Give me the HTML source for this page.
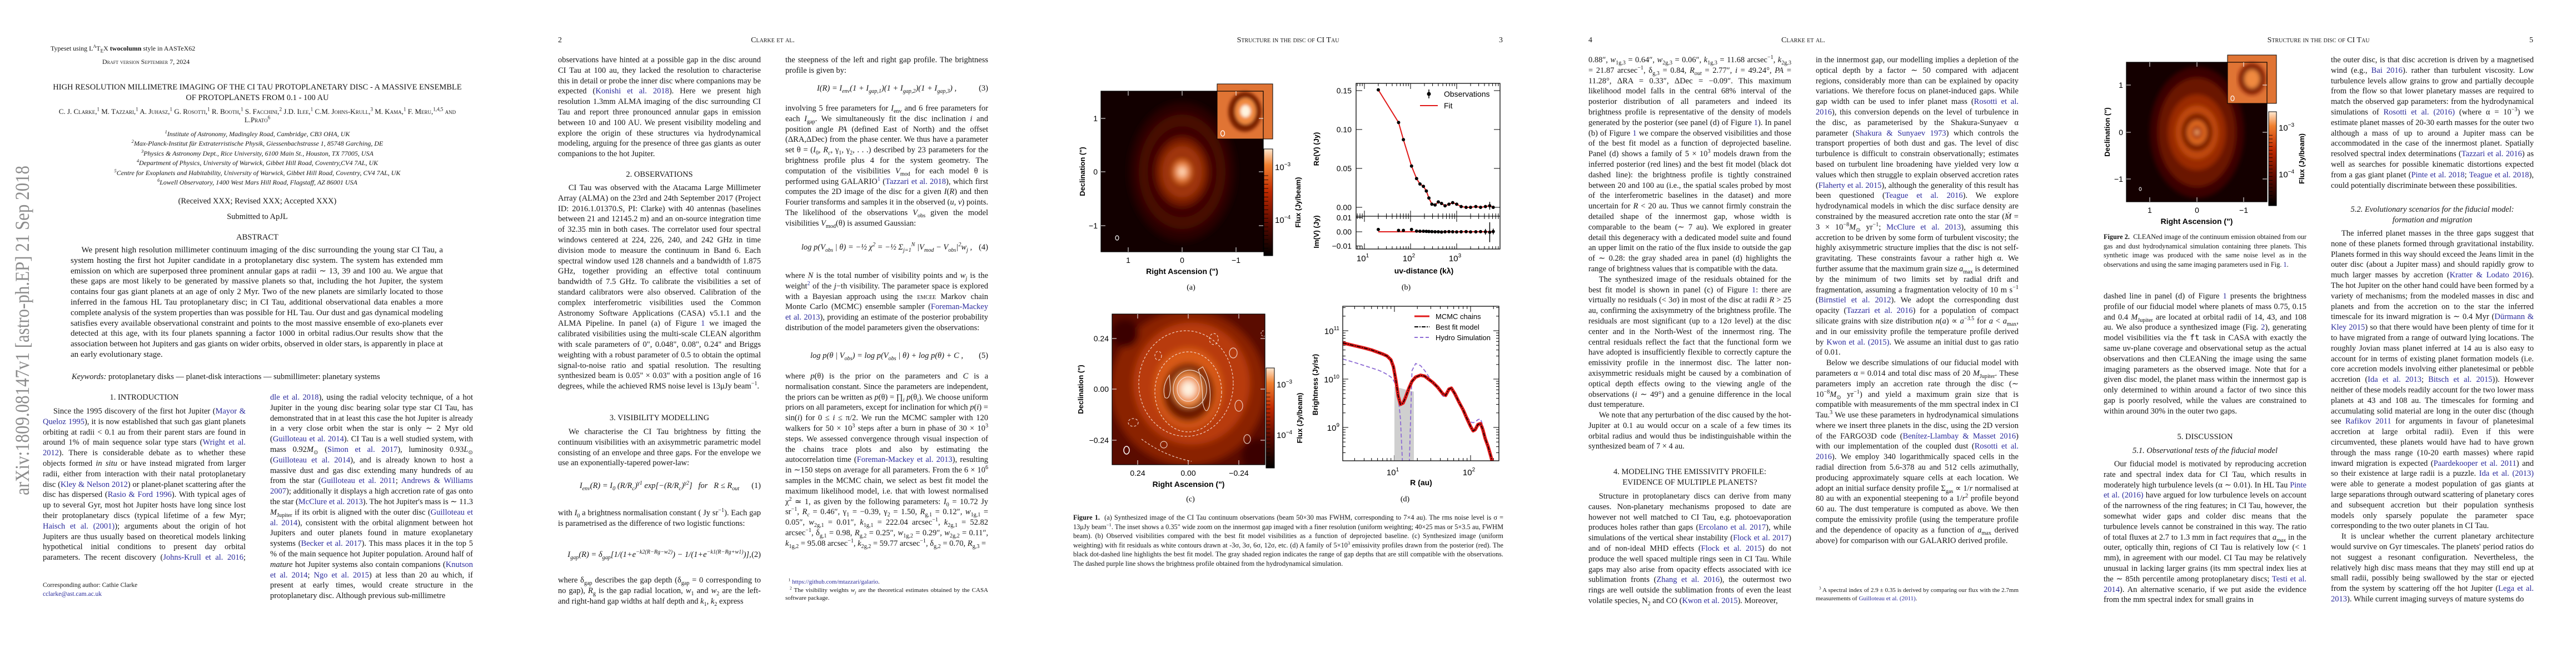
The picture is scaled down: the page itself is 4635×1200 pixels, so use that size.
<!DOCTYPE html>
<html lang="en"><head><meta charset="utf-8">
<style>
body{margin:0;width:4635px;height:1200px;background:#fff;position:relative;overflow:hidden;font-family:"Liberation Serif",serif;color:#151515}
sup,sub{line-height:0;font-size:70%}
.page{position:absolute;top:0;width:927px;height:1200px}
.t{position:absolute;width:365px;font-size:14.5px;line-height:18.8px;text-align:justify;hyphens:auto;overflow:hidden}
.t p{margin:0;text-indent:1.3em}
.c{color:#2b2b9c}
.h{position:absolute;font-size:14.5px;text-align:center;white-space:nowrap;line-height:18px}
.hd{position:absolute;top:65px;font-size:14px;font-variant:small-caps;white-space:nowrap}
.eq{position:absolute;width:365px;font-size:14.5px;font-style:italic;text-align:center;white-space:nowrap}
.eq b{position:absolute;right:0;font-weight:normal;font-style:normal}
.fn{position:absolute;width:365px;font-size:11px;line-height:14.5px;text-align:justify}
.cap{position:absolute;font-size:12.3px;line-height:16.6px;text-align:justify}
svg text{font-family:"Liberation Sans",sans-serif}
</style></head><body>

<!-- PAGE 1 -->
<div class="page" style="left:0">
<svg width="80" height="1200" style="position:absolute;left:0;top:0">
<text transform="translate(52,891) rotate(-90)" textLength="593" lengthAdjust="spacingAndGlyphs" font-size="36" fill="#8c8c8c" style="font-family:'Liberation Serif',serif">arXiv:1809.08147v1  [astro-ph.EP]  21 Sep 2018</text></svg>
<div class="h" style="left:91px;top:78px;font-size:12px;text-align:left">Typeset using L<sup style="font-size:8px">A</sup>T<sub style="font-size:9px">E</sub>X <b>twocolumn</b> style in AASTeX62</div>
<div class="h" style="left:184px;top:102px;font-size:12px;font-variant:small-caps">Draft version September 7, 2024</div>
<div class="h" style="left:78px;width:770px;top:148px;white-space:normal;line-height:19px">HIGH RESOLUTION MILLIMETRE IMAGING OF THE CI TAU PROTOPLANETARY DISC - A MASSIVE ENSEMBLE<br>OF PROTOPLANETS FROM 0.1 - 100 AU</div>
<div class="h" style="left:78px;width:770px;top:193px;white-space:normal;font-size:13px;font-variant:small-caps;line-height:15px">C. J. Clarke,<sup>1</sup> M. Tazzari,<sup>1</sup> A. Juhasz,<sup>1</sup> G. Rosotti,<sup>1</sup> R. Booth,<sup>1</sup> S. Facchini,<sup>2</sup> J.D. Ilee,<sup>1</sup> C.M. Johns-Krull,<sup>3</sup> M. Kama,<sup>1</sup> F. Meru,<sup>1,4,5</sup> and<br>L.Prato<sup>6</sup></div>
<div class="h" style="left:78px;width:770px;top:233px;white-space:normal;font-size:12px;font-style:italic;line-height:17.4px"><sup>1</sup>Institute of Astronomy, Madingley Road, Cambridge, CB3 OHA, UK<br><sup>2</sup>Max-Planck-Institut für Extraterristische Physik, Giessenbachstrasse 1, 85748 Garching, DE<br><sup>3</sup>Physics &amp; Astronomy Dept., Rice University, 6100 Main St., Houston, TX 77005, USA<br><sup>4</sup>Department of Physics, University of Warwick, Gibbet Hill Road, Coventry,CV4 7AL, UK<br><sup>5</sup>Centre for Exoplanets and Habitability, University of Warwick, Gibbet Hill Road, Coventry, CV4 7AL, UK<br><sup>6</sup>Lowell Observatory, 1400 West Mars Hill Road, Flagstaff, AZ 86001 USA</div>
<div class="h" style="left:78px;width:770px;top:353px">(Received XXX; Revised XXX; Accepted XXX)</div>
<div class="h" style="left:78px;width:770px;top:381px">Submitted to ApJL</div>
<div class="h" style="left:78px;width:770px;top:418px">ABSTRACT</div>
<div class="t" style="left:127px;width:670px;top:441px;height:207px;font-size:15px"><p>We present high resolution millimeter continuum imaging of the disc surrounding the young star CI Tau, a system hosting the first hot Jupiter candidate in a protoplanetary disc system. The system has extended mm emission on which are superposed three prominent annular gaps at radii ∼ 13, 39 and 100 au. We argue that these gaps are most likely to be generated by massive planets so that, including the hot Jupiter, the system contains four gas giant planets at an age of only 2 Myr. Two of the new planets are similarly located to those inferred in the famous HL Tau protoplanetary disc; in CI Tau, additional observational data enables a more complete analysis of the system properties than was possible for HL Tau. Our dust and gas dynamical modeling satisfies every available observational constraint and points to the most massive ensemble of exo-planets ever detected at this age, with its four planets spanning a factor 1000 in orbital radius.Our results show that the association between hot Jupiters and gas giants on wider orbits, observed in older stars, is apparently in place at an early evolutionary stage.</p></div>
<div class="h" style="left:129px;top:669px"><i>Keywords:</i> protoplanetary disks — planet-disk interactions — submillimeter: planetary systems</div>
<div class="h" style="left:77px;width:365px;top:706px">1. INTRODUCTION</div>
<div class="t" style="left:77px;top:731px;height:282px"><p>Since the 1995 discovery of the first hot Jupiter (<span class="c">Mayor &amp; Queloz 1995</span>), it is now established that such gas giant planets orbiting at radii &lt; 0.1 au from their parent stars are found in around 1% of main sequence solar type stars (<span class="c">Wright et al. 2012</span>). There is considerable debate as to whether these objects formed <i>in situ</i> or have instead migrated from larger radii, either from interaction with their natal protoplanetary disc (<span class="c">Kley &amp; Nelson 2012</span>) or planet-planet scattering after the disc has dispersed (<span class="c">Rasio &amp; Ford 1996</span>). With typical ages of up to several Gyr, most hot Jupiter hosts have long since lost their protoplanetary discs (typical lifetime of a few Myr; <span class="c">Haisch et al. (2001)</span>); arguments about the origin of hot Jupiters are thus usually based on theoretical models linking hypothetical initial conditions to present day orbital parameters. The recent discovery (<span class="c">Johns-Krull et al. 2016</span>; <span class="c">Biddle et al. 2018</span>), using the radial velocity technique</p></div>
<div class="fn" style="left:77px;top:1045px;line-height:16px;font-size:11.5px">Corresponding author: Cathie Clarke<br><span class="c">cclarke@ast.cam.ac.uk</span></div>
<div class="t" style="left:486px;top:706px;height:376px"><span class="c">dle et al. 2018</span>), using the radial velocity technique, of a hot Jupiter in the young disc bearing solar type star CI Tau, has demonstrated that in at least this case the hot Jupiter is already in a very close orbit when the star is only ∼ 2 Myr old (<span class="c">Guilloteau et al. 2014</span>). CI Tau is a well studied system, with mass 0.92<i>M</i><sub>⊙</sub> (<span class="c">Simon et al. 2017</span>), luminosity 0.93<i>L</i><sub>⊙</sub> (<span class="c">Guilloteau et al. 2014</span>), and is already known to host a massive dust and gas disc extending many hundreds of au from the star (<span class="c">Guilloteau et al. 2011</span>; <span class="c">Andrews &amp; Williams 2007</span>); additionally it displays a high accretion rate of gas onto the star (<span class="c">McClure et al. 2013</span>). The hot Jupiter's mass is ∼ 11.3 <i>M</i><sub>Jupiter</sub> if its orbit is aligned with the outer disc (<span class="c">Guilloteau et al. 2014</span>), consistent with the orbital alignment between hot Jupiters and outer planets found in mature exoplanetary systems (<span class="c">Becker et al. 2017</span>). This mass places it in the top 5 % of the main sequence hot Jupiter population. Around half of <i>mature</i> hot Jupiter systems also contain companions (<span class="c">Knutson et al. 2014</span>; <span class="c">Ngo et al. 2015</span>) at less than 20 au which, if present at early times, would create structure in the protoplanetary disc. Although previous sub-millimetre</div>
</div>

<!-- PAGE 2 -->
<div class="page" style="left:927px">
<div class="hd" style="left:77px">2</div>
<div class="hd" style="left:0;width:927px;text-align:center">Clarke et al.</div>
<div class="t" style="left:77px;top:99px;height:188px">observations have hinted at a possible gap in the disc around CI Tau at 100 au, they lacked the resolution to characterise this in detail or probe the inner disc where companions may be expected (<span class="c">Konishi et al. 2018</span>). Here we present high resolution 1.3mm ALMA imaging of the disc surrounding CI Tau and report three pronounced annular gaps in emission between 10 and 100 AU. We present visibility modeling and explore the origin of these structures via hydrodynamical modeling, arguing for the presence of three gas giants as outer companions to the hot Jupiter.</div>
<div class="h" style="left:77px;width:365px;top:305px">2. OBSERVATIONS</div>
<div class="t" style="left:77px;top:329px;height:395px"><p>CI Tau was observed with the Atacama Large Millimeter Array (ALMA) on the 23rd and 24th September 2017 (Project ID: 2016.1.01370.S, PI: Clarke) with 40 antennas (baselines between 21 and 12145.2 m) and an on-source integration time of 32.35 min in both cases. The correlator used four spectral windows centered at 224, 226, 240, and 242 GHz in time division mode to measure the continuum in Band 6. Each spectral window used 128 channels and a bandwidth of 1.875 GHz, together providing an effective total continuum bandwidth of 7.5 GHz. To calibrate the visibilities a set of standard calibrators were also observed. Calibration of the complex interferometric visibilities used the Common Astronomy Software Applications (CASA) v5.1.1 and the ALMA Pipeline. In panel (a) of Figure <span class="c">1</span> we imaged the calibrated visibilities using the multi-scale CLEAN algorithm with scale parameters of 0", 0.048", 0.08", 0.24" and Briggs weighting with a robust parameter of 0.5 to obtain the optimal signal-to-noise ratio and spatial resolution. The resulting synthesized beam is 0.05" × 0.03" with a position angle of 16 degrees, while the achieved RMS noise level is 13μJy beam<sup>−1</sup>.</p></div>
<div class="h" style="left:77px;width:365px;top:743px">3. VISIBILITY MODELLING</div>
<div class="t" style="left:77px;top:768px;height:76px"><p>We characterise the CI Tau brightness by fitting the continuum visibilities with an axisymmetric parametric model consisting of an envelope and three gaps. For the envelope we use an exponentially-tapered power-law:</p></div>
<div class="eq" style="left:77px;top:866px">I<sub>env</sub>(R) = I<sub>0</sub> (R/R<sub>c</sub>)<sup>γ1</sup> exp[−(R/R<sub>c</sub>)<sup>γ2</sup>] &nbsp; for &nbsp; R ≤ R<sub>out</sub><b>(1)</b></div>
<div class="t" style="left:77px;top:914px;height:57px">with <i>I</i><sub>0</sub> a brightness normalisation constant ( Jy sr<sup>−1</sup>). Each gap is parametrised as the difference of two logistic functions:</div>
<div class="eq" style="left:77px;top:990px">I<sub>gap</sub>(R) = δ<sub>gap</sub>[1/(1+e<sup>−k2(R−Rg−w2)</sup>) − 1/(1+e<sup>−k1(R−Rg+w1)</sup>)],<b>(2)</b></div>
<div class="t" style="left:77px;top:1035px;height:57px">where δ<sub>gap</sub> describes the gap depth (δ<sub>gap</sub> = 0 corresponding to no gap), <i>R</i><sub>g</sub> is the gap radial location, <i>w</i><sub>1</sub> and <i>w</i><sub>2</sub> are the left- and right-hand gap widths at half depth and <i>k</i><sub>1</sub>, <i>k</i><sub>2</sub> express</div>
<div class="t" style="left:486px;top:99px;height:38px">the steepness of the left and right gap profile. The brightness profile is given by:</div>
<div class="eq" style="left:486px;top:151px">I(R) = I<sub>env</sub>(1 + I<sub>gap,1</sub>)(1 + I<sub>gap,2</sub>)(1 + I<sub>gap,3</sub>) ,<b>(3)</b></div>
<div class="t" style="left:486px;top:186px;height:226px">involving 5 free parameters for <i>I</i><sub>env</sub> and 6 free parameters for each <i>I</i><sub>gap</sub>. We simultaneously fit the disc inclination <i>i</i> and position angle <i>PA</i> (defined East of North) and the offset (ΔRA,ΔDec) from the phase center. We thus have a parameter set θ = (<i>I</i><sub>0</sub>, <i>R<sub>c</sub></i>, γ<sub>1</sub>, γ<sub>2</sub>, . . .) described by 23 parameters for the brightness profile plus 4 for the system geometry. The computation of the visibilities <i>V</i><sub>mod</sub> for each model θ is performed using GALARIO<sup class="c">1</sup> (<span class="c">Tazzari et al. 2018</span>), which first computes the 2D image of the disc for a given <i>I</i>(<i>R</i>) and then Fourier transforms and samples it in the observed (<i>u, v</i>) points. The likelihood of the observations <i>V</i><sub>obs</sub> given the model visibilities <i>V</i><sub>mod</sub>(θ) is assumed Gaussian:</div>
<div class="eq" style="left:486px;top:437px">log p(V<sub>obs</sub> | θ) = −½ χ<sup>2</sup> = −½ Σ<sub>j=1</sub><sup>N</sup> |V<sub>mod</sub> − V<sub>obs</sub>|<sup>2</sup>w<sub>j</sub> ,<b>(4)</b></div>
<div class="t" style="left:486px;top:487px;height:132px">where <i>N</i> is the total number of visibility points and <i>w<sub>j</sub></i> is the weight<sup class="c">2</sup> of the <i>j</i>−th visibility. The parameter space is explored with a Bayesian approach using the <span style="font-variant:small-caps">emcee</span> Markov chain Monte Carlo (MCMC) ensemble sampler (<span class="c">Foreman-Mackey et al. 2013</span>), providing an estimate of the posterior probability distribution of the model parameters given the observations:</div>
<div class="eq" style="left:486px;top:632px">log p(θ | V<sub>obs</sub>) = log p(V<sub>obs</sub> | θ) + log p(θ) + C ,<b>(5)</b></div>
<div class="t" style="left:486px;top:668px;height:339px">where <i>p</i>(θ) is the prior on the parameters and <i>C</i> is a normalisation constant. Since the parameters are independent, the priors can be written as <i>p</i>(θ) = ∏<sub><i>i</i></sub> <i>p</i>(θ<sub><i>i</i></sub>). We choose uniform priors on all parameters, except for inclination for which <i>p</i>(<i>i</i>) = sin(<i>i</i>) for 0 ≤ <i>i</i> ≤ π/2. We run the MCMC sampler with 120 walkers for 50 × 10<sup>3</sup> steps after a burn in phase of 30 × 10<sup>3</sup> steps. We assessed convergence through visual inspection of the chains trace plots and also by estimating the autocorrelation time (<span class="c">Foreman-Mackey et al. 2013</span>), resulting in ∼150 steps on average for all parameters. From the 6 × 10<sup>6</sup> samples in the MCMC chain, we select as best fit model the maximum likelihood model, i.e. that with lowest normalised χ<sup>2</sup> ≃ 1, as given by the following parameters: <i>I</i><sub>0</sub> = 10.72 Jy sr<sup>−1</sup>, <i>R<sub>c</sub></i> = 0.46″, γ<sub>1</sub> = −0.39, γ<sub>2</sub> = 1.50, <i>R</i><sub>g,1</sub> = 0.12″, <i>w</i><sub>1g,1</sub> = 0.05″, <i>w</i><sub>2g,1</sub> = 0.01″, <i>k</i><sub>1g,1</sub> = 222.04 arcsec<sup>−1</sup>, <i>k</i><sub>2g,1</sub> = 52.82 arcsec<sup>−1</sup>, δ<sub>g,1</sub> = 0.98, <i>R</i><sub>g,2</sub> = 0.25″, <i>w</i><sub>1g,2</sub> = 0.29″, <i>w</i><sub>2g,2</sub> = 0.11″, <i>k</i><sub>1g,2</sub> = 95.08 arcsec<sup>−1</sup>, <i>k</i><sub>2g,2</sub> = 59.77 arcsec<sup>−1</sup>, δ<sub>g,2</sub> = 0.70, <i>R</i><sub>g,3</sub> =</div>
<div class="fn" style="left:486px;top:1040px">&nbsp;&nbsp;<sup>1</sup> <span class="c">https://github.com/mtazzari/galario</span>.<br>&nbsp;&nbsp;<sup>2</sup> The visibility weights <i>w<sub>j</sub></i> are the theoretical estimates obtained by the CASA software package.</div>
</div>

<!-- PAGE 3 -->
<div class="page" style="left:1854px">
<div class="hd" style="left:0;width:927px;text-align:center">Structure in the disc of CI Tau</div>
<div class="hd" style="left:843px">3</div>
<svg id="p3" width="927" height="1200" style="position:absolute;left:0;top:0">
<defs>
<filter id="bl"><feGaussianBlur stdDeviation="3"/></filter>
<filter id="bl2"><feGaussianBlur stdDeviation="6"/></filter>
<linearGradient id="cb" x1="0" y1="1" x2="0" y2="0"><stop offset="0" stop-color="#000"/><stop offset="0.3" stop-color="#5a0a00"/><stop offset="0.6" stop-color="#c02a00"/><stop offset="0.85" stop-color="#f08030"/><stop offset="1" stop-color="#ffe8d0"/></linearGradient>
<clipPath id="ca"><rect x="127" y="164" width="292" height="289"/></clipPath>
<clipPath id="cc"><rect x="147" y="565" width="275" height="271"/></clipPath>
<clipPath id="cd"><rect x="562" y="551" width="281" height="278"/></clipPath>
</defs>
<g>
<rect x="127" y="164" width="292" height="289" fill="#120000"/>
<g clip-path="url(#ca)" filter="url(#bl2)">
<ellipse cx="273" cy="309" rx="95" ry="125" fill="#2a0300"/>
<ellipse cx="273" cy="309" rx="78" ry="103" fill="#4a0c00"/>
<ellipse cx="273" cy="309" rx="62" ry="82" fill="#3a0600"/>
<ellipse cx="273" cy="309" rx="48" ry="62" fill="#7a1e00"/>
<ellipse cx="273" cy="309" rx="36" ry="46" fill="#a83a10"/>
<ellipse cx="273" cy="309" rx="26" ry="33" fill="#8a2000"/>
<ellipse cx="273" cy="309" rx="18" ry="23" fill="#e06a20"/>
<ellipse cx="273" cy="309" rx="10" ry="13" fill="#ffb070"/>
<ellipse cx="273" cy="309" rx="5" ry="6" fill="#fff8e8"/>
</g>
<ellipse cx="156" cy="428" rx="3" ry="4" fill="none" stroke="#fff" stroke-width="1.2"/>
</g>
<g>
<rect x="336" y="151" width="100" height="99" fill="#e07434"/>
<g filter="url(#bl)"><ellipse cx="386" cy="201" rx="30" ry="36" fill="#7a2000"/><ellipse cx="387" cy="200" rx="19" ry="24" fill="#f08a40"/><ellipse cx="387" cy="200" rx="9" ry="11" fill="#fff4e0"/></g>
<rect x="336" y="151" width="100" height="99" fill="none" stroke="#000" stroke-width="1"/>
<ellipse cx="346" cy="240" rx="3.5" ry="5" fill="none" stroke="#fff" stroke-width="1.3"/>
</g>
<rect x="420" y="268" width="16" height="192" fill="url(#cb)" stroke="#000"/>
<g id="aAxes" font-size="13"></g>
<g clip-path="url(#cc)">
<rect x="147" y="565" width="275" height="271" fill="#5a0c00"/>
<g filter="url(#bl2)">
<ellipse cx="284" cy="698" rx="140" ry="140" fill="#8a2000"/>
<ellipse cx="290" cy="690" rx="105" ry="110" fill="#b83a08"/>
<ellipse cx="284" cy="698" rx="62" ry="72" fill="#d85a18"/>
<ellipse cx="284" cy="706" rx="46" ry="52" fill="#6a1200"/>
<ellipse cx="284" cy="700" rx="28" ry="32" fill="#f08a40"/>
<ellipse cx="284" cy="700" rx="14" ry="16" fill="#fff2e0"/>
<ellipse cx="170" cy="600" rx="25" ry="25" fill="#3a0500"/>
<ellipse cx="410" cy="820" rx="30" ry="30" fill="#3a0500"/>
</g>
<g fill="none" stroke="#f4e0d8" stroke-width="1.2" opacity="0.9">
<ellipse cx="284" cy="700" rx="20" ry="22"/><ellipse cx="287" cy="700" rx="30" ry="34"/>
<path d="M310 660 q18 30 12 70 q-6 20 -12 -5 q0-40 -8 -60z"/>
<path d="M250 675 q-14 20 -8 40 q8 6 10 -15z"/>
<ellipse cx="284" cy="705" rx="60" ry="72" stroke-dasharray="4,3"/>
<ellipse cx="280" cy="690" rx="85" ry="95" stroke-dasharray="4,3"/>
<path d="M200 790 q40 30 90 40" stroke-dasharray="4,3"/>
<ellipse cx="330" cy="610" rx="8" ry="10" stroke-dasharray="4,3"/><ellipse cx="365" cy="635" rx="7" ry="9"/>
<ellipse cx="230" cy="640" rx="6" ry="8" stroke-dasharray="4,3"/><ellipse cx="390" cy="790" rx="6" ry="8"/>
<ellipse cx="185" cy="760" rx="9" ry="7" stroke-dasharray="4,3"/><ellipse cx="240" cy="800" rx="6" ry="6"/>
<ellipse cx="375" cy="730" rx="7" ry="10"/><ellipse cx="420" cy="600" rx="5" ry="5" stroke-dasharray="3,2"/>
</g>
<ellipse cx="173" cy="810" rx="5" ry="7" fill="none" stroke="#fff" stroke-width="1.5"/>
</g>
<rect x="424" y="662" width="15" height="180" fill="url(#cb)" stroke="#000"/>
<g id="cAxes" font-size="13"></g>
<g id="plotB" font-size="13"></g>
<g id="plotD" font-size="13"></g>
<g font-size="14">
<text x="289" y="521" text-anchor="middle" style="font-family:'Liberation Serif',serif">(a)</text>
<text x="676" y="521" text-anchor="middle" style="font-family:'Liberation Serif',serif">(b)</text>
<text x="288" y="902" text-anchor="middle" style="font-family:'Liberation Serif',serif">(c)</text>
<text x="674" y="902" text-anchor="middle" style="font-family:'Liberation Serif',serif">(d)</text>
</g>
</svg>
<div class="cap" style="left:77px;top:923px;width:774px"><b>Figure 1.</b> &nbsp;(a) Synthesized image of the CI Tau continuum observations (beam 50×30 mas FWHM, corresponding to 7×4 au). The rms noise level is σ = 13μJy beam<sup>−1</sup>. The inset shows a 0.35" wide zoom on the innermost gap imaged with a finer resolution (uniform weighting; 40×25 mas or 5×3.5 au, FWHM beam). (b) Observed visibilities compared with the best fit model visibilities as a function of deprojected baseline. (c) Synthesized image (uniform weighting) with fit residuals as white contours drawn at -3σ, 3σ, 6σ, 12σ, etc. (d) A family of 5×10<sup>3</sup> emissivity profiles drawn from the posterior (red). The black dot-dashed line highlights the best fit model. The gray shaded region indicates the range of gap depths that are still compatible with the observations. The dashed purple line shows the brightness profile obtained from the hydrodynamical simulation.</div>
</div>

<!-- PAGE 4 -->
<div class="page" style="left:2781px">
<div class="hd" style="left:77px">4</div>
<div class="hd" style="left:0;width:927px;text-align:center">Clarke et al.</div>
<div class="t" style="left:77px;top:99px;height:715px">0.88″, <i>w</i><sub>1g,3</sub> = 0.64″, <i>w</i><sub>2g,3</sub> = 0.06″, <i>k</i><sub>1g,3</sub> = 11.68 arcsec<sup>−1</sup>, <i>k</i><sub>2g,3</sub> = 21.87 arcsec<sup>−1</sup>, δ<sub>g,3</sub> = 0.84, <i>R<sub>out</sub></i> = 2.77″, <i>i</i> = 49.24°, <i>PA</i> = 11.28°, ΔRA = 0.33″, ΔDec = −0.09″. This maximum likelihood model falls in the central 68% interval of the posterior distribution of all parameters and indeed its brightness profile is representative of the density of models generated by the posterior (see panel (d) of Figure <span class="c">1</span>). In panel (b) of Figure <span class="c">1</span> we compare the observed visibilities and those of the best fit model as a function of deprojected baseline. Panel (d) shows a family of 5 × 10<sup>3</sup> models drawn from the inferred posterior (red lines) and the best fit model (black dot dashed line): the brightness profile is tightly constrained between 20 and 100 au (i.e., the spatial scales probed by most of the interferometric baselines in the dataset) and more uncertain for <i>R</i> &lt; 20 au. Thus we cannot firmly constrain the detailed shape of the innermost gap, whose width is comparable to the beam (∼ 7 au). We explored in greater detail this degeneracy with a dedicated model suite and found an upper limit on the ratio of the flux inside to outside the gap of ∼ 0.28: the gray shaded area in panel (d) highlights the range of brightness values that is compatible with the data.
<p>The synthesized image of the residuals obtained for the best fit model is shown in panel (c) of Figure <span class="c">1</span>: there are virtually no residuals (&lt; 3σ) in most of the disc at radii <i>R</i> &gt; 25 au, confirming the axisymmetry of the brightness profile. The residuals are most significant (up to a 12σ level) at the disc center and in the North-West of the innermost ring. The central residuals reflect the fact that the functional form we have adopted is insufficiently flexible to correctly capture the emissivity profile in the innermost disc. The latter non-axisymmetric residuals might be caused by a combination of optical depth effects owing to the viewing angle of the observations (<i>i</i> ∼ 49°) and a genuine difference in the local dust temperature.</p>
<p>We note that any perturbation of the disc caused by the hot-Jupiter at 0.1 au would occur on a scale of a few times its orbital radius and would thus be indistinguishable within the synthesized beam of 7 × 4 au.</p></div>
<div class="h" style="left:77px;width:365px;top:840px;line-height:19px">4. MODELING THE EMISSIVITY PROFILE:<br>EVIDENCE OF MULTIPLE PLANETS?</div>
<div class="t" style="left:77px;top:884px;height:207px"><p>Structure in protoplanetary discs can derive from many causes. Non-planetary mechanisms proposed to date are however not well matched to CI Tau, e.g. photoevaporation produces holes rather than gaps (<span class="c">Ercolano et al. 2017</span>), while simulations of the vertical shear instability (<span class="c">Flock et al. 2017</span>) and of non-ideal MHD effects (<span class="c">Flock et al. 2015</span>) do not produce the well spaced multiple rings seen in CI Tau. While gaps may also arise from opacity effects associated with ice sublimation fronts (<span class="c">Zhang et al. 2016</span>), the outermost two rings are well outside the sublimation fronts of even the least volatile species, N<sub>2</sub> and CO (<span class="c">Kwon et al. 2015</span>). Moreover,</p></div>
<div class="t" style="left:486px;top:99px;height:921px">in the innermost gap, our modelling implies a depletion of the optical depth by a factor ∼ 50 compared with adjacent regions, considerably more than can be explained by opacity variations. We therefore focus on planet-induced gaps. While gap width can be used to infer planet mass (<span class="c">Rosotti et al. 2016</span>), this conversion depends on the level of turbulence in the disc, as parameterised by the Shakura-Sunyaev α parameter (<span class="c">Shakura &amp; Sunyaev 1973</span>) which controls the transport properties of both dust and gas. The level of disc turbulence is difficult to constrain observationally; estimates based on turbulent line broadening have yielded very low α values which then struggle to explain observed accretion rates (<span class="c">Flaherty et al. 2015</span>), although the generality of this result has been questioned (<span class="c">Teague et al. 2016</span>). We explore hydrodynamical models in which the disc surface density are constrained by the measured accretion rate onto the star (<i>Ṁ</i> = 3 × 10<sup>−8</sup><i>M</i><sub>⊙</sub> yr<sup>−1</sup>; <span class="c">McClure et al. 2013</span>), assuming this accretion to be driven by some form of turbulent viscosity; the highly axisymmetric structure implies that the disc is not self-gravitating. These constraints favour a rather high α. We further assume that the maximum grain size <i>a</i><sub>max</sub> is determined by the minimum of two limits set by radial drift and fragmentation, assuming a fragmentation velocity of 10 m s<sup>−1</sup> (<span class="c">Birnstiel et al. 2012</span>). We adopt the corresponding dust opacity (<span class="c">Tazzari et al. 2016</span>) for a population of compact silicate grains with size distribution <i>n</i>(<i>a</i>) ∝ <i>a</i><sup>−3.5</sup> for <i>a</i> &lt; <i>a</i><sub>max</sub>, and in our emissivity profile the temperature profile derived by <span class="c">Kwon et al. (2015)</span>. We assume an initial dust to gas ratio of 0.01.
<p>Below we describe simulations of our fiducial model with parameters α = 0.014 and total disc mass of 20 <i>M</i><sub>Jupiter</sub>. These parameters imply an accretion rate through the disc (∼ 10<sup>−8</sup><i>M</i><sub>⊙</sub> yr<sup>−1</sup>) and yield a maximum grain size that is compatible with measurements of the mm spectral index in CI Tau.<sup>3</sup> We use these parameters in hydrodynamical simulations where we insert three planets in the disc, using the 2D version of the FARGO3D code (<span class="c">Benítez-Llambay &amp; Masset 2016</span>) with our implementation of the coupled dust (<span class="c">Rosotti et al. 2016</span>). We employ 340 logarithmically spaced cells in the radial direction from 5.6-378 au and 512 cells azimuthally, producing approximately square cells at each location. We adopt an initial surface density profile Σ<sub>gas</sub> ∝ 1/<i>r</i> normalised at 80 au with an exponential steepening to a 1/<i>r</i><sup>2</sup> profile beyond 60 au. The dust temperature is computed as above. We then compute the emissivity profile (using the temperature profile and the dependence of opacity as a function of <i>a</i><sub>max</sub> derived above) for comparison with our GALARIO derived profile.</p></div>
<div class="fn" style="left:486px;top:1055px">&nbsp;&nbsp;<sup>3</sup> A spectral index of 2.9 ± 0.35 is derived by comparing our flux with the 2.7mm measurements of <span class="c">Guilloteau et al. (2011)</span>.</div>
</div>

<!-- PAGE 5 -->
<div class="page" style="left:3708px">
<div class="hd" style="left:0;width:927px;text-align:center">Structure in the disc of CI Tau</div>
<div class="hd" style="left:843px">5</div>
<svg width="927" height="560" style="position:absolute;left:0;top:0">
<defs><filter id="bl3"><feGaussianBlur stdDeviation="4"/></filter>
<linearGradient id="cb2" x1="0" y1="1" x2="0" y2="0"><stop offset="0" stop-color="#000"/><stop offset="0.3" stop-color="#5a0a00"/><stop offset="0.6" stop-color="#c02a00"/><stop offset="0.85" stop-color="#f08030"/><stop offset="1" stop-color="#ffe8d0"/></linearGradient>
<clipPath id="c2"><rect x="118" y="112" width="253" height="251"/></clipPath></defs>
<g>
<rect x="118" y="112" width="253" height="251" fill="#140000"/>
<g clip-path="url(#c2)" filter="url(#bl3)">
<ellipse cx="245" cy="238" rx="85" ry="118" fill="#3a0600"/>
<ellipse cx="245" cy="238" rx="70" ry="98" fill="#6a1400"/>
<ellipse cx="245" cy="238" rx="52" ry="68" fill="#9a2a04"/>
<ellipse cx="245" cy="238" rx="38" ry="48" fill="#c04a10"/>
<ellipse cx="245" cy="238" rx="28" ry="34" fill="#7a1a00"/>
<ellipse cx="245" cy="238" rx="18" ry="22" fill="#e06a20"/>
<ellipse cx="245" cy="238" rx="10" ry="12" fill="#a02a00"/>
<ellipse cx="245" cy="238" rx="4" ry="5" fill="#ffb070"/>
</g>
<ellipse cx="143" cy="340" rx="2" ry="3" fill="none" stroke="#fff"/>
</g>
<g>
<rect x="300" y="99" width="88" height="87" fill="#e07434"/>
<g filter="url(#bl3)"><ellipse cx="344" cy="142" rx="24" ry="28" fill="#7a1800"/><ellipse cx="344" cy="142" rx="14" ry="17" fill="#f08a40"/></g>
<rect x="300" y="99" width="88" height="87" fill="none" stroke="#000"/>
<ellipse cx="309" cy="177" rx="3" ry="4.5" fill="none" stroke="#fff" stroke-width="1.2"/>
</g>
<rect x="374" y="201" width="14" height="169" fill="url(#cb2)" stroke="#000"/>
<g id="f2Axes" font-size="13"></g>
</svg>
<div class="cap" style="left:77px;top:418px;width:365px"><b>Figure 2.</b> &nbsp;CLEANed image of the continuum emission obtained from our gas and dust hydrodynamical simulation containing three planets. This synthetic image was produced with the same noise level as in the observations and using the same imaging parameters used in Fig. <span class="c">1</span>.</div>
<div class="t" style="left:77px;top:524px;height:226px">dashed line in panel (d) of Figure <span class="c">1</span> presents the brightness profile of our fiducial model where planets of mass 0.75, 0.15 and 0.4 <i>M</i><sub>Jupiter</sub> are located at orbital radii of 14, 43, and 108 au. We also produce a synthesized image (Fig. <span class="c">2</span>), generating model visibilities via the <tt>ft</tt> task in CASA with exactly the same uv-plane coverage and observational setup as the actual observations and then CLEANing the image using the same imaging parameters as the observed image. Note that for a given disc model, the planet mass within the innermost gap is only determined to within around a factor of two since this gap is poorly resolved, while the values are constrained to within around 30% in the outer two gaps.</div>
<div class="h" style="left:77px;width:365px;top:777px">5. DISCUSSION</div>
<div class="h" style="left:77px;width:365px;top:802px;font-style:italic">5.1. Observational tests of the fiducial model</div>
<div class="t" style="left:77px;top:826px;height:264px"><p>Our fiducial model is motivated by reproducing accretion rate and spectral index data for CI Tau, which results in moderately high turbulence levels (α ∼ 0.01). In HL Tau <span class="c">Pinte et al. (2016)</span> have argued for low turbulence levels on account of the narrowness of the ring features; in CI Tau, however, the somewhat wider gaps and colder disc means that the turbulence levels cannot be constrained in this way. The ratio of total fluxes at 2.7 to 1.3 mm in fact <i>requires</i> that <i>a<sub>max</sub></i> in the outer, optically thin, regions of CI Tau is relatively low (&lt; 1 mm), in agreement with our model. CI Tau may be relatively unusual in lacking larger grains (its mm spectral index lies at the ∼ 85th percentile among protoplanetary discs; <span class="c">Testi et al. 2014</span>). An alternative scenario, if we put aside the evidence from the mm spectral index for small grains in</p></div>
<div class="t" style="left:486px;top:99px;height:245px">the outer disc, is that disc accretion is driven by a magnetised wind (e.g., <span class="c">Bai 2016</span>). rather than turbulent viscosity. Low turbulence levels allow grains to grow and partially decouple from the flow so that lower planetary masses are required to match the observed gap parameters: from the hydrodynamical simulations of <span class="c">Rosotti et al. (2016)</span> (where α = 10<sup>−3</sup>) we estimate planet masses of 20-30 earth masses for the outer two although a mass of up to around a Jupiter mass can be accommodated in the case of the innermost planet. Spatially resolved spectral index determinations (<span class="c">Tazzari et al. 2016</span>) as well as searches for possible kinematic distortions expected from a gas giant planet (<span class="c">Pinte et al. 2018</span>; <span class="c">Teague et al. 2018</span>), could potentially discriminate between these possibilities.</div>
<div class="h" style="left:486px;width:365px;top:368px;font-style:italic;line-height:19px">5.2. Evolutionary scenarios for the fiducial model:<br>formation and migration</div>
<div class="t" style="left:486px;top:411px;height:678px"><p>The inferred planet masses in the three gaps suggest that none of these planets formed through gravitational instability. Planets formed in this way should exceed the Jeans limit in the outer disc (about a Jupiter mass) and should rapidly grow to much larger masses by accretion (<span class="c">Kratter &amp; Lodato 2016</span>). The hot Jupiter on the other hand could have been formed by a variety of mechanisms; from the modeled masses in disc and planets and from the accretion on to the star the inferred timescale for its inward migration is ∼ 0.4 Myr (<span class="c">Dürmann &amp; Kley 2015</span>) so that there would have been plenty of time for it to have migrated from a range of outward lying locations. The roughly Jovian mass planet inferred at 14 au is also easy to account for in terms of existing planet formation models (i.e. core accretion models involving either planetesimal or pebble accretion (<span class="c">Ida et al. 2013</span>; <span class="c">Bitsch et al. 2015</span>)). However neither of these models readily account for the two lower mass planets at 43 and 108 au. The timescales for forming and accumulating solid material are long in the outer disc (though see <span class="c">Rafikov 2011</span> for arguments in favour of planetesimal accretion at large orbital radii). Even if this were circumvented, these planets would have had to have grown through the mass range (10-20 earth masses) where rapid inward migration is expected (<span class="c">Paardekooper et al. 2011</span>) and so their existence at large radii is a puzzle. <span class="c">Ida et al. (2013)</span> were able to generate a modest population of gas giants at large separations through outward scattering of planetary cores and subsequent accretion but their population synthesis models only sparsely populate the parameter space corresponding to the two outer planets in CI Tau.</p><p>It is unclear whether the current planetary architecture would survive on Gyr timescales. The planets' period ratios do not suggest a resonant configuration. Nevertheless, the relatively high disc mass means that they may still end up at small radii, possibly being swallowed by the star or ejected from the system by scattering off the hot Jupiter (<span class="c">Lega et al. 2013</span>). While current imaging surveys of mature systems do</p></div>
</div>

<script>
// ---- Figure 1(b) data: visibilities ----
const bUv = [20,55,70,105,135,160,190,220,250,290,340,400,470,560,680,820,1000,1250,1600,2000,2600,3300,4200,5200,6200];
const bRe = [0.151,0.109,0.087,0.053,0.037,0.030,0.027,0.021,0.012,0.004,0.003,0.007,0.005,0.002,0.004,0.006,0.004,0.001,0.000,0.000,0.001,0.000,0.001,0.002,0.000];
const bIm = [0.0016,0.001,0.001,0.0016,0.0005,0.0004,0.0004,0.0003,0.0002,0.0001,0.0,0.0,-0.0002,0.0,0.0001,0.0,-0.0001,0.0,0.0001,-0.0001,0.0,0.0001,0.0,-0.0003,0.0002];
const bErrRe = [0,0,0,0,0,0,0,0,0,0,0,0,0,0,0,0,0,0,0,0,0,0.001,0.002,0.005,0.002];
const bErrIm = [0,0,0,0,0,0,0,0,0,0,0,0,0,0,0,0,0,0,0,0,0,0.001,0.002,0.007,0.002];
const bReTicks = [0.15,0.10,0.05,0.00];
const bImTicks = [0.01,0.00,-0.01];
const bXDecades = [1,2,3];
// ---- Figure 1(d) data: brightness profiles ----
const dR = [2.1,3,4,5,6,7,8,9,9.7,10.5,11.2,12,13,14,15.5,17,19,22,25,28,32,37,43,47,52,56,62,70,80,90,100,108,115,125,135,145,155,170,185,200,215];
const dBest = [5.6e10,4.9e10,4.4e10,4.0e10,3.6e10,3.3e10,3.0e10,2.5e10,1.8e10,9e9,4.5e9,3.0e9,3.2e9,4.2e9,6.5e9,9e9,1.1e10,1.2e10,1.15e10,1.0e10,8.5e9,6.8e9,5.0e9,4.6e9,6.2e9,6.5e9,5.0e9,3.4e9,2.3e9,1.5e9,1.05e9,8.5e8,9e8,1.15e9,1.2e9,9e8,6e8,4e8,2.5e8,1.5e8,1e8];
const dHydro = [2.6e10,2.2e10,1.9e10,1.7e10,1.55e10,1.4e10,1.25e10,1.1e10,9.5e9,7.5e9,4.5e9,1.5e9,1e8,1e8,1e8,1.5e10,2.1e10,1.9e10,1.5e10,1.15e10,8.5e9,6.5e9,4.5e9,4.2e9,6e9,6.3e9,5e9,3.5e9,2.4e9,1.7e9,1.3e9,1.25e9,1.3e9,1.45e9,1.5e9,1.1e9,7e8,4e8,2.3e8,1.4e8,1e8];
const dBandR = [10,18];
const dBandTop = [7e9,5.5e9];
const dYDecades = [9,10,11];
const dXDecades = [1,2];

const NS='http://www.w3.org/2000/svg';
function mk(parent,tag,attrs,txt){const e=document.createElementNS(NS,tag);for(const k in attrs)e.setAttribute(k,attrs[k]);if(txt!==undefined)e.textContent=txt;parent.appendChild(e);return e;}
function sup(parent,x,y,base,exp,anchor){const t=mk(parent,'text',{x:x,y:y,'text-anchor':anchor||'middle','font-size':15});t.textContent=base;const s=document.createElementNS(NS,'tspan');s.setAttribute('dy','-7');s.setAttribute('font-size','10');s.textContent=exp;t.appendChild(s);return t;}

const bx = v => 601 + (Math.log10(v)-1)*83;
const yRe = v => 373 - v*1400;
const yIm = v => 417 - v*2550;
const B = document.getElementById('plotB');


mk(B,'rect',{x:586,y:150,width:259,height:298,fill:'none',stroke:'#000','stroke-width':1.3});
mk(B,'line',{x1:586,y1:389,x2:845,y2:389,stroke:'#000','stroke-width':1.3});
for(let d=0;d<=3;d++){for(let m=1;m<10;m++){const v=m*Math.pow(10,d);const x=bx(v);if(x<586||x>845)continue;const L=m===1?10:5;
 [[150,150+L],[389,389-L],[389,389+L],[448,448-L]].forEach(p=>mk(B,'line',{x1:x,y1:p[0],x2:x,y2:p[1],stroke:'#000'}));}}
bReTicks.forEach(v=>{const y=yRe(v);mk(B,'line',{x1:586,y1:y,x2:597,y2:y,stroke:'#000'});mk(B,'line',{x1:845,y1:y,x2:834,y2:y,stroke:'#000'});
 const t=mk(B,'text',{x:578,y:y+5,'text-anchor':'end','font-size':14},v.toFixed(2));});
bImTicks.forEach(v=>{const y=yIm(v);mk(B,'line',{x1:586,y1:y,x2:597,y2:y,stroke:'#000'});
 const t=mk(B,'text',{x:578,y:y+5,'text-anchor':'end','font-size':14},v===0?'0.00':(v>0?'0.01':'−0.01'));});
bXDecades.forEach(d=>{const t=sup(B,bx(Math.pow(10,d))-3,470,'10',String(d));});
const bxt=mk(B,'text',{x:708,y:492,'text-anchor':'middle','font-size':14,'font-weight':'bold'},'uv-distance (kλ)');

const byt=mk(B,'text',{transform:'translate(519,268) rotate(-90)','text-anchor':'middle','font-size':13,'font-weight':'bold'},'Re(V) (Jy)');

const byt2=mk(B,'text',{transform:'translate(519,417) rotate(-90)','text-anchor':'middle','font-size':13,'font-weight':'bold'},'Im(V) (Jy)');

const reLine=mk(B,'polyline',{points:bUv.map((u,i)=>bx(u)+','+yRe(bRe[i])).join(' '),fill:'none',stroke:'#e01818','stroke-width':2});

const imLine=mk(B,'line',{x1:bx(bUv[0]),y1:yIm(0),x2:bx(bUv[bUv.length-1]),y2:yIm(0),stroke:'#e01818','stroke-width':2});

bUv.forEach((u,i)=>{const x=bx(u);
 if(bErrRe[i]>0){mk(B,'line',{x1:x,y1:yRe(bRe[i]-bErrRe[i]),x2:x,y2:yRe(bRe[i]+bErrRe[i]),stroke:'#000','stroke-width':1.5});}
 if(bErrIm[i]>0){mk(B,'line',{x1:x,y1:yIm(bIm[i]-bErrIm[i]),x2:x,y2:yIm(bIm[i]+bErrIm[i]),stroke:'#000','stroke-width':1.5});}
 const p=mk(B,'circle',{cx:x,cy:yRe(bRe[i]),r:3,fill:'#000'});
 const q=mk(B,'circle',{cx:x,cy:yIm(bIm[i]),r:3,fill:'#000'});});
mk(B,'line',{x1:717,y1:161,x2:717,y2:177,stroke:'#000','stroke-width':1.5});mk(B,'circle',{cx:717,cy:169,r:3.5,fill:'#000'});
const bl1=mk(B,'text',{x:744,y:174,'font-size':14},'Observations');
mk(B,'line',{x1:701,y1:190,x2:733,y2:190,stroke:'#e01818','stroke-width':2});
const bl2=mk(B,'text',{x:744,y:195,'font-size':14},'Fit');

const xd = r => 655 + (Math.log10(r)-1)*137;
const yd = b => 682 - (Math.log10(b)-10)*87;
const D = document.getElementById('plotD');


for(let d=0;d<=2;d++){for(let m=1;m<10;m++){const v=m*Math.pow(10,d);const x=xd(v);if(x<562||x>843)continue;const L=m===1?10:5;
 mk(D,'line',{x1:x,y1:829,x2:x,y2:829-L,stroke:'#000'});mk(D,'line',{x1:x,y1:551,x2:x,y2:551+L,stroke:'#000'});}}
for(let d=8;d<=11;d++){for(let m=1;m<10;m++){const v=m*Math.pow(10,d);const y=yd(v);if(y<551||y>829)continue;const L=m===1?10:5;
 mk(D,'line',{x1:562,y1:y,x2:562+L,y2:y,stroke:'#000'});mk(D,'line',{x1:843,y1:y,x2:843-L,y2:y,stroke:'#000'});}}
dYDecades.forEach(d=>{const t=sup(D,556,yd(Math.pow(10,d))+6,'10',String(d),'end');});
dXDecades.forEach(d=>{const t=sup(D,xd(Math.pow(10,d))-3,855,'10',String(d));});
const dxt=mk(D,'text',{x:703,y:873,'text-anchor':'middle','font-size':14,'font-weight':'bold'},'R (au)');

const dyt=mk(D,'text',{transform:'translate(517,692) rotate(-90)','text-anchor':'middle','font-size':13,'font-weight':'bold'},'Brightness (Jy/sr)');

const DG=mk(D,'g',{'clip-path':'url(#cd)'});
const band=mk(DG,'polygon',{points:[xd(dBandR[0])+','+829,xd(dBandR[0])+','+yd(dBandTop[0]),xd(dBandR[1])+','+yd(dBandTop[1]),xd(dBandR[1])+','+829].join(' '),fill:'#cfcfcf'});

const pts = arr => dR.map((r,i)=>xd(r).toFixed(1)+','+yd(arr[i]).toFixed(1)).join(' ');
const hyd=mk(DG,'polyline',{points:pts(dHydro),fill:'none',stroke:'#8d6bd4','stroke-width':1.8,'stroke-dasharray':'7,4'});

const mc=mk(DG,'polyline',{points:pts(dBest),fill:'none',stroke:'#e01818','stroke-width':6,'stroke-linejoin':'round'});

const bf=mk(DG,'polyline',{points:pts(dBest),fill:'none',stroke:'#000','stroke-width':1.6,'stroke-dasharray':'7,2,2,2'});

mk(D,'rect',{x:562,y:551,width:281,height:278,fill:'none',stroke:'#000','stroke-width':1.3});
[['MCMC chains','#e01818','',3,569],['Best fit model','#000','7,2,2,2',2,588],['Hydro Simulation','#8d6bd4','6,4',2,607]].forEach(l=>{
 mk(D,'line',{x1:691,y1:l[4],x2:718,y2:l[4],stroke:l[1],'stroke-width':l[3],'stroke-dasharray':l[2]});
 const t=mk(D,'text',{x:729,y:l[4]+5,'font-size':13},l[0]);});

function imgAxes(id,box,xt,yt,cbar,cbTicks,ylab){const G=document.getElementById(id);
 
 
 mk(G,'rect',{x:box[0],y:box[1],width:box[2],height:box[3],fill:'none',stroke:'#000','stroke-width':1.2});
 xt.forEach(t=>{mk(G,'line',{x1:t[0],y1:box[1]+box[3],x2:t[0],y2:box[1]+box[3]-8,stroke:'#fff'});mk(G,'line',{x1:t[0],y1:box[1],x2:t[0],y2:box[1]+8,stroke:'#fff'});
  const s=mk(G,'text',{x:t[0],y:box[1]+box[3]+20,'text-anchor':'middle','font-size':14},t[1]);});
 yt.forEach(t=>{mk(G,'line',{x1:box[0],y1:t[0],x2:box[0]+8,y2:t[0],stroke:'#fff'});mk(G,'line',{x1:box[0]+box[2],y1:t[0],x2:box[0]+box[2]-8,y2:t[0],stroke:'#fff'});
  const s=mk(G,'text',{x:box[0]-6,y:t[0]+5,'text-anchor':'end','font-size':14},t[1]);});
 const xa=mk(G,'text',{x:box[0]+box[2]/2,y:box[1]+box[3]+40,'text-anchor':'middle','font-size':14,'font-weight':'bold'},'Right Ascension (")');
 const ya=mk(G,'text',{transform:'translate('+ylab+','+(box[1]+box[3]/2)+') rotate(-90)','text-anchor':'middle','font-size':13,'font-weight':'bold'},'Declination (")');
 for(let k=0;k<18;k++){const y=cbar[1]+cbar[3]*0.25+k*cbar[3]*0.04;mk(G,'line',{x1:cbar[0],y1:y,x2:cbar[0]+cbar[2]*0.5,y2:y,stroke:'#000','stroke-width':0.8});}
 cbTicks.forEach(t=>{const s=sup(G,cbar[0]+cbar[2]+4,t[0]+6,'10',t[1],'start');});
 const fl=mk(G,'text',{transform:'translate('+(cbar[0]+cbar[2]+50)+','+(cbar[1]+cbar[3]/2)+') rotate(-90)','text-anchor':'middle','font-size':13,'font-weight':'bold'},'Flux (Jy/beam)');}
imgAxes('aAxes',[127,164,292,289],[[176,'1'],[273,'0'],[370,'−1']],[[213,'1'],[309,'0'],[406,'−1']],[420,268,16,192],[[300,'−3'],[395,'−4']],98);
imgAxes('cAxes',[147,565,275,271],[[193,'0.24'],[284,'0.00'],[375,'−0.24']],[[609,'0.24'],[700,'0.00'],[792,'−0.24']],[424,662,15,180],[[691,'−3'],[782,'−4']],95);
imgAxes('f2Axes',[118,112,253,251],[[160,'1'],[245,'0'],[329,'−1']],[[153,'1'],[238,'0'],[322,'−1']],[374,201,14,169],[[229,'−3'],[313,'−4']],88);
</script>
</body></html>
